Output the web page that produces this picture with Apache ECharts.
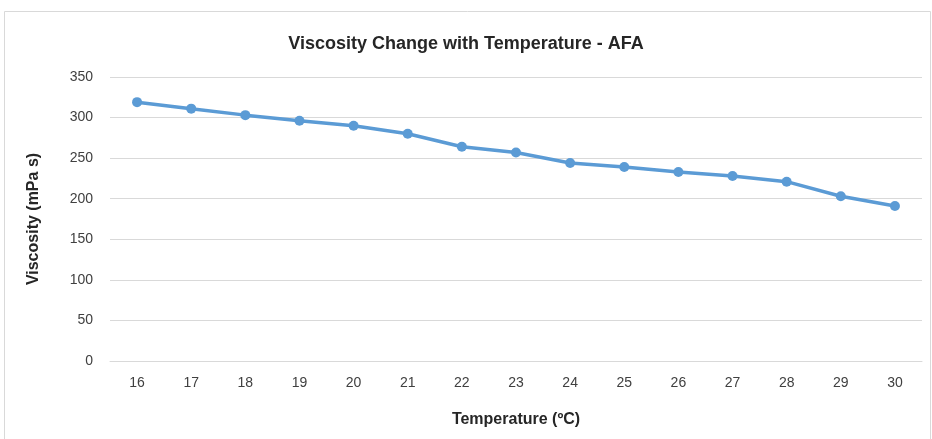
<!DOCTYPE html>
<html><head><meta charset="utf-8">
<script src="https://cdn.jsdelivr.net/npm/echarts@6/dist/echarts.min.js"></script>
<style>html,body{margin:0;padding:0;background:#fff}#c{width:932px;height:439px}</style>
</head><body><div id="c"></div>
<script>
var categories = ['16','17','18','19','20','21','22','23','24','25','26','27','28','29','30'];
var viscosity = [319, 311, 303, 296, 290, 280, 264, 257, 244, 239, 233, 228, 221, 203, 191];
var chart = echarts.init(document.getElementById('c'));
chart.setOption({
  backgroundColor: '#fff',
  graphic: [{type:'rect', shape:{x:4.5,y:11.5,width:926,height:440}, style:{fill:'none',stroke:'#d9d9d9',lineWidth:1}, silent:true}],
  title: {text:'Viscosity Change with Temperature - AFA', left:'center', top:30,
    textStyle:{fontFamily:'Liberation Sans, Arial', fontWeight:'bold', fontSize:18, color:'#262626'}},
  grid: {left:110, right:10, top:77, bottom:78},
  xAxis: {type:'category', data:categories, boundaryGap:true,
    name:'Temperature (ºC)', nameLocation:'middle', nameGap:51,
    nameTextStyle:{fontFamily:'Liberation Sans, Arial', fontWeight:'bold', fontSize:16, color:'#262626'},
    axisLine:{lineStyle:{color:'#d9d9d9'}}, axisTick:{show:false},
    axisLabel:{fontFamily:'Liberation Sans, Arial', fontSize:14, color:'#404040', margin:15}},
  yAxis: {type:'value', min:0, max:350, interval:50,
    name:'Viscosity (mPa s)', nameLocation:'middle', nameGap:68, nameRotate:90,
    nameTextStyle:{fontFamily:'Liberation Sans, Arial', fontWeight:'bold', fontSize:16, color:'#262626'},
    axisLine:{show:false}, axisTick:{show:false},
    splitLine:{lineStyle:{color:'#d9d9d9'}},
    axisLabel:{fontFamily:'Liberation Sans, Arial', fontSize:14, color:'#404040', margin:17}},
  series: [{type:'line', data:viscosity, symbol:'circle', symbolSize:10,
    lineStyle:{color:'#5b9bd5', width:3.5}, itemStyle:{color:'#5b9bd5'}, animation:false}]
});
</script></body></html>
